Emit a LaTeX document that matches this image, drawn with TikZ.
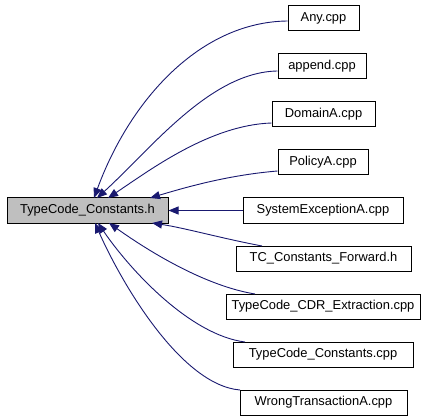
\documentclass[tikz,border=0pt]{standalone}
\usepackage{fontspec}
\setmainfont{Liberation Sans}
\usetikzlibrary{arrows.meta}
\definecolor{edgecol}{HTML}{191970}
\definecolor{maingray}{HTML}{BFBFBF}
\begin{document}
\begin{tikzpicture}[x=1pt,y=-1pt,
  box/.style={draw=black,line width=1pt,minimum height=25pt,inner sep=0pt,font=\fontsize{12.9}{14}\selectfont},
  dep/.style={draw=edgecol,line width=0.9pt,-{Triangle[length=10pt,width=8pt]}}]
\useasboundingbox (0,0) rectangle (435,419);
\node[box,fill=maingray,minimum width=161pt] (main) at (87.5,210.5) {TypeCode\_Constants.h};
\node[box,minimum width=71pt]  (any)    at (323.5,18.5)  {Any.cpp};
\node[box,minimum width=88pt]  (append) at (322,66.5)    {append.cpp};
\node[box,minimum width=103pt] (domain) at (323.5,114.5) {DomainA.cpp};
\node[box,minimum width=90pt]  (policy) at (323,162.5)   {PolicyA.cpp};
\node[box,minimum width=160pt] (sysex)  at (323,210.5)   {SystemExceptionA.cpp};
\node[box,minimum width=175pt] (tcfwd)  at (323.5,258.5) {TC\_Constants\_Forward.h};
\node[box,minimum width=194pt] (cdr)    at (323,306.5)   {TypeCode\_CDR\_Extraction.cpp};
\node[box,minimum width=180pt] (tcc)    at (323,354.5)   {TypeCode\_Constants.cpp};
\node[box,minimum width=167pt] (wrong)  at (323.5,402.5) {WrongTransactionA.cpp};
% arrow tip points on main
\coordinate (t1) at (94,198);
\coordinate (t2) at (97,198);
\coordinate (t3) at (108,198);
\coordinate (t4) at (150,198);
\coordinate (t6) at (152,223);
\coordinate (t7) at (109,223);
\coordinate (t8) at (98,223);
\coordinate (t9) at (95,223);
% start points on leaves
\coordinate (s1) at (any.west |- 0,21);
\coordinate (s2) at (append.west |- 0,71);
\coordinate (s3) at (domain.west |- 0,123);
\coordinate (s4) at (policy.west |- 0,171);
\coordinate (s6) at (262,246);
\coordinate (s7) at (255,294);
\coordinate (s8) at (245,342);
\coordinate (s9) at (240,390);
\draw[dep] (s1) .. controls (200,22) and (130,100) .. (t1);
\draw[dep] (s2) .. controls (210,72) and (150,150) .. (t2);
\draw[dep] (s3) .. controls (210,125) and (150,170) .. (t3);
\draw[dep] (s4) .. controls (230,175) and (190,186) .. (t4);
\draw[dep] (sysex.west) -- (main.east);
\draw[dep] (s6) .. controls (220,238) and (185,228) .. (t6);
\draw[dep] (s7) .. controls (200,285) and (140,245) .. (t7);
\draw[dep] (s8) .. controls (190,335) and (130,270) .. (t8);
\draw[dep] (s9) .. controls (180,385) and (120,280) .. (t9);
\end{tikzpicture}
\end{document}
